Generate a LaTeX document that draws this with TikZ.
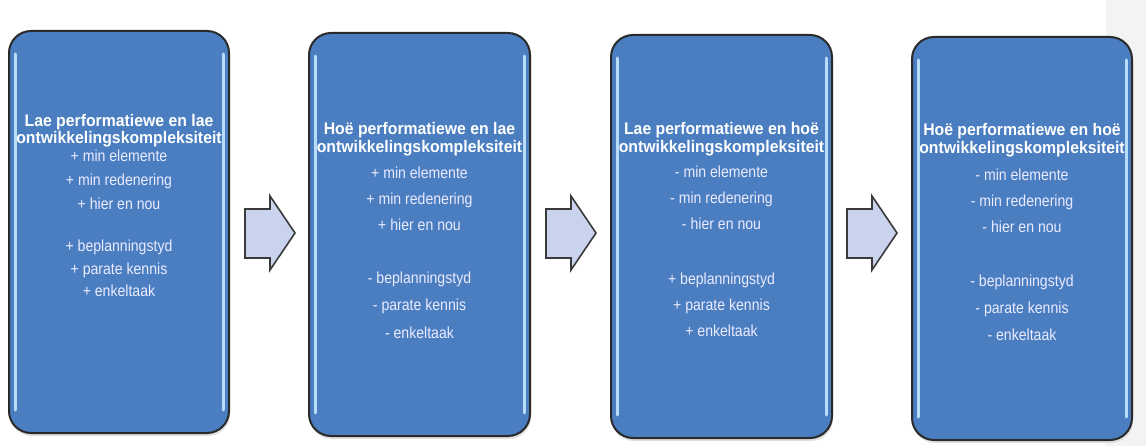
\documentclass[tikz,border=0pt]{standalone}
\usepackage{fontspec}
\setmainfont{Liberation Sans}
\newfontfamily\titlefont[FakeStretch=0.94]{Liberation Sans}
\newfontfamily\bodyfont[FakeStretch=0.88]{Liberation Sans}
\usetikzlibrary{calc}
\definecolor{boxblue}{HTML}{4A7EC1}
\definecolor{boxedge}{HTML}{2A2A2A}
\definecolor{glow}{HTML}{B8DDF8}
\definecolor{arrowfill}{HTML}{C9D3EE}
\definecolor{arrowedge}{HTML}{3A3A3A}
\definecolor{stripgray}{HTML}{F3F3F3}
\tikzset{
  panel/.style={fill=boxblue, draw=boxedge, line width=2pt, rounded corners=22pt, inner sep=0pt},
  panelshadow/.style={fill=black!12, rounded corners=22pt},
  glowline/.style={draw=glow, line width=3pt, line cap=round},
  titletxt/.style={text=white, font=\titlefont\fontsize{16.8}{17}\selectfont\bfseries, inner sep=0pt, text height=12pt, text depth=3.5pt},
  bodytxt/.style={text=white!92!blue, font=\bodyfont\fontsize{16}{17}\selectfont, inner sep=0pt, text height=11.5pt, text depth=3.5pt},
  blockarrow/.style={fill=arrowfill, draw=arrowedge, line width=1.6pt, line join=miter}
}
\begin{document}
\begin{tikzpicture}[x=1pt,y=-1pt]
\useasboundingbox (0,0) rectangle (1146,446);
\fill[white] (0,0) rectangle (1146,446);
\fill[stripgray] (1106,0) rectangle (1146,446);

% panels: name / centre x / centre y / width / height
\foreach \n/\cx/\cy/\w/\h in {p1/119/232/220/402, p2/419.5/234.5/221/403, p3/721.5/236.5/221/403, p4/1022/238.5/220/403}{
  \fill[panelshadow] (\cx-\w/2+1,\cy-\h/2+3) rectangle (\cx+\w/2+1,\cy+\h/2+3);
  \node[panel, minimum width=\w, minimum height=\h] (\n) at (\cx,\cy) {};
  \draw[glowline] ($(\n.north west)+(7,24)$) -- ($(\n.south west)+(7,-24)$);
  \draw[glowline] ($(\n.north east)+(-7,24)$) -- ($(\n.south east)+(-7,-24)$);
}

% block arrows between panels
\foreach \x in {245,546,847}{
  \draw[blockarrow] (\x,209) -- (\x+25,209) -- (\x+25,196) -- (\x+50,233) -- (\x+25,270) -- (\x+25,258) -- (\x,258) -- cycle;
}

% panel 1
\node[titletxt] (p1t1) at (119,122) {Lae performatiewe en lae};
\node[titletxt] (p1t2) at (119,139) {ontwikkelingskompleksiteit};
\foreach \t/\y [count=\i] in {{+ min elemente}/158, {+ min redenering}/182, {+ hier en nou}/206, {+ beplanningstyd}/248, {+ parate kennis}/271, {+ enkeltaak}/293}{
  \node[bodytxt] (p1l\i) at (119,\y) {\t};
}

% panel 2
\node[titletxt] (p2t1) at (419.5,130) {Hoë performatiewe en lae};
\node[titletxt] (p2t2) at (419.5,148) {ontwikkelingskompleksiteit};
\foreach \t/\y [count=\i] in {{+ min elemente}/175, {+ min redenering}/201, {+ hier en nou}/227, {- beplanningstyd}/280, {- parate kennis}/307, {- enkeltaak}/334}{
  \node[bodytxt] (p2l\i) at (419.5,\y) {\t};
}

% panel 3
\node[titletxt] (p3t1) at (721.5,130) {Lae performatiewe en hoë};
\node[titletxt] (p3t2) at (721.5,148) {ontwikkelingskompleksiteit};
\foreach \t/\y [count=\i] in {{- min elemente}/174, {- min redenering}/200, {- hier en nou}/226, {+ beplanningstyd}/281, {+ parate kennis}/307, {+ enkeltaak}/333}{
  \node[bodytxt] (p3l\i) at (721.5,\y) {\t};
}

% panel 4
\node[titletxt] (p4t1) at (1022,131) {Hoë performatiewe en hoë};
\node[titletxt] (p4t2) at (1022,149) {ontwikkelingskompleksiteit};
\foreach \t/\y [count=\i] in {{- min elemente}/177, {- min redenering}/203, {- hier en nou}/229, {- beplanningstyd}/283, {- parate kennis}/310, {- enkeltaak}/337}{
  \node[bodytxt] (p4l\i) at (1022,\y) {\t};
}
\end{tikzpicture}
\end{document}
